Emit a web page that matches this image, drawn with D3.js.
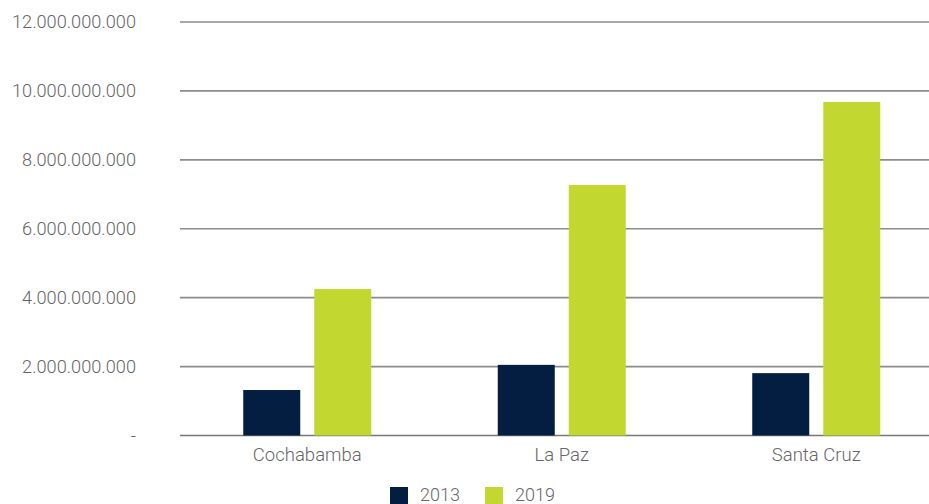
<!DOCTYPE html>
<html>
<head>
<meta charset="utf-8">
<script src="https://cdn.jsdelivr.net/npm/d3@7"></script>
<style>
  html, body { margin: 0; padding: 0; background: #fff; }
  svg { display: block; font-family: Roboto, "Noto Sans", sans-serif; font-weight: 300; }
</style>
</head>
<body>
<svg id="chart" width="929" height="504"></svg>
<script>
const categories = ["Cochabamba", "La Paz", "Santa Cruz"];
const seriesNames = ["2013", "2019"];
const values2013 = [1320000000, 2050000000, 1810000000];
const values2019 = [4250000000, 7270000000, 9680000000];
const yTicks = [0, 2000000000, 4000000000, 6000000000, 8000000000, 10000000000, 12000000000];
const colors = ["#041e42", "#c2d72f"];

const svg = d3.select("#chart");
const W = 929;
const x0 = d3.scaleBand().domain(categories).range([180, 943.5]).paddingInner(0).paddingOuter(0);
const y = d3.scaleLinear().domain([0, 12000000000]).range([435.5, 22]);

const locale = d3.formatLocale({ decimal: ",", thousands: ".", grouping: [3], currency: ["", ""] });
const fmt = locale.format(",.0f");

// gridlines
svg.append("g").selectAll("line").data(yTicks).join("line")
  .attr("x1", 180).attr("x2", W)
  .attr("y1", d => y(d)).attr("y2", d => y(d))
  .attr("stroke", d => d === 0 ? "#777" : "#8c8c8c")
  .attr("stroke-width", 1.6);

// y labels
svg.append("g").selectAll("text").data(yTicks).join("text")
  .attr("x", 136).attr("y", d => y(d)).attr("dy", "0.35em")
  .attr("text-anchor", "end")
  .attr("fill", "#666").attr("font-size", 18.2)
  .text(d => d === 0 ? "-" : fmt(d));

// bars
const barW = 57, gap = 14;
const data = categories.map((c, i) => ({ cat: c, vals: [values2013[i], values2019[i]] }));
const groups = svg.append("g").selectAll("g").data(data).join("g")
  .attr("transform", d => `translate(${x0(d.cat) + x0.bandwidth() / 2},0)`);
groups.selectAll("rect").data(d => d.vals.map((v, k) => ({ v, k }))).join("rect")
  .attr("x", d => d.k === 0 ? -(barW + gap / 2) : gap / 2)
  .attr("width", barW)
  .attr("y", d => y(d.v))
  .attr("height", d => y(0) - y(d.v))
  .attr("fill", d => colors[d.k]);

// category labels
svg.append("g").selectAll("text").data(categories).join("text")
  .attr("x", d => x0(d) + x0.bandwidth() / 2).attr("y", 461)
  .attr("text-anchor", "middle")
  .attr("fill", "#666").attr("font-size", 18.5)
  .text(d => d);

// legend
const legend = svg.append("g");
const legX = [390, 485];
seriesNames.forEach((s, i) => {
  legend.append("rect").attr("x", legX[i]).attr("y", 487).attr("width", 18).attr("height", 17).attr("fill", colors[i]);
  legend.append("text").attr("x", legX[i] + 30).attr("y", 501)
    .attr("fill", "#666").attr("font-size", 18).text(s);
});
</script>
</body>
</html>
